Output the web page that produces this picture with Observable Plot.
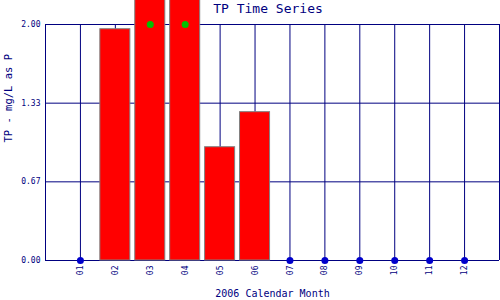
<!DOCTYPE html>
<html>
<head>
<meta charset="utf-8">
<script src="https://cdn.jsdelivr.net/npm/d3@7"></script>
<script src="https://cdn.jsdelivr.net/npm/@observablehq/plot@0.6"></script>
<style>
  html, body { margin: 0; padding: 0; background: white; }
  #chart svg { display: block; }
</style>
</head>
<body>
<div id="chart"></div>
<script>
// ---- data ----
const months = [1, 2, 3, 4, 5, 6, 7, 8, 9, 10, 11, 12];
const monthLabels = ["01", "02", "03", "04", "05", "06", "07", "08", "09", "10", "11", "12"];
const tpValues = [0, 1.96, 2.45, 2.6, 0.96, 1.257, 0, 0, 0, 0, 0, 0];
const yTickValues = [0, 0.6667, 1.3333, 2];
const yTickLabels = ["0.00", "0.67", "1.33", "2.00"];
const yMax = 2;
const title = "TP Time Series";
const xTitle = "2006 Calendar Month";
const yTitle = "TP - mg/L as P";

const navy = "#000080";
const data = months.map((m, i) => ({month: m, label: monthLabels[i], tp: tpValues[i]}));
const bars = data.filter(d => d.tp > 0);
const zeros = data.filter(d => d.tp === 0);
const over = data.filter(d => d.tp > yMax).map(d => ({...d, capped: yMax}));

const chart = Plot.plot({
  width: 500,
  height: 300,
  marginLeft: 45,
  marginRight: 1,
  marginTop: 24,
  marginBottom: 40,
  style: {fontFamily: "DejaVu Sans Mono", color: navy, background: "white", overflow: "visible"},
  x: {type: "linear", domain: [0, 13], axis: null},
  y: {domain: [0, yMax], axis: null},
  marks: [
    Plot.gridX(months, {stroke: navy, strokeOpacity: 1, strokeWidth: 1}),
    Plot.gridY(yTickValues, {stroke: navy, strokeOpacity: 1, strokeWidth: 1}),
    Plot.ruleX([0, 13], {stroke: navy, strokeWidth: 1}),
    Plot.ruleY([0], {stroke: navy, strokeWidth: 1}),
    Plot.axisY(yTickValues, {
      tickSize: 0, tickPadding: 5, fontSize: 8, fill: navy,
      tickFormat: (d, i) => yTickLabels[i], label: null
    }),
    Plot.axisX(months, {
      tickSize: 0, tickPadding: 5, fontSize: 8, fill: navy, tickRotate: -90,
      tickFormat: d => monthLabels[d - 1], label: null
    }),
    Plot.rect(bars, {
      x1: d => d.month - 0.43, x2: d => d.month + 0.43,
      y1: 0, y2: "tp",
      fill: "#ff0000", stroke: "#808080", strokeWidth: 1, clip: false
    }),
    Plot.dot(zeros, {x: "month", y: "tp", r: 3.5, fill: "#0000cc", stroke: null}),
    Plot.dot(over, {x: "month", y: "capped", r: 3.5, fill: "#00c000", stroke: null}),
    Plot.text([title], {frameAnchor: "top", dx: -4.5, dy: -15.5, lineAnchor: "middle", fontSize: 13, fill: navy}),
    Plot.text([xTitle], {frameAnchor: "bottom", dy: 33, lineAnchor: "middle", fontSize: 10, fill: navy}),
    Plot.text([yTitle], {frameAnchor: "left", dx: -37, rotate: -90, fontSize: 10.5, fill: navy})
  ]
});
document.getElementById("chart").appendChild(chart);
</script>
</body>
</html>
